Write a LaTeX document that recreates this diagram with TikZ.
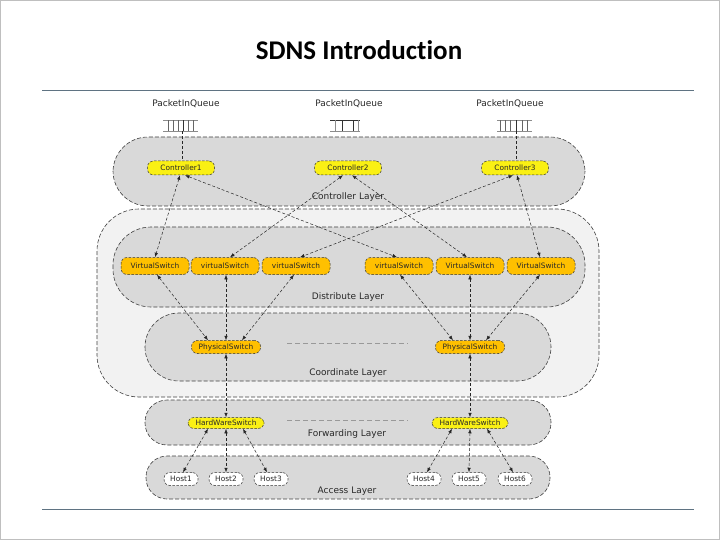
\documentclass[tikz,border=0pt]{standalone}
\usepackage{fontspec}
\setmainfont{DejaVu Sans}
\newfontfamily\titlefont[Ligatures=NoCommon]{Carlito}
\usetikzlibrary{arrows.meta,calc}
\definecolor{ctrlyellow}{RGB}{250,240,20}
\definecolor{sworange}{RGB}{255,192,0}
\definecolor{rulecol}{RGB}{95,115,130}
\definecolor{layerfill}{RGB}{217,217,217}
\definecolor{outerfill}{RGB}{242,242,242}
\definecolor{txtcol}{RGB}{40,40,40}
\begin{document}
\begin{tikzpicture}[x=1pt,y=-1pt,
  box/.style={draw=black!80, dash pattern=on 2.5pt off 1.5pt, line width=0.5pt,
    rounded corners=6pt, inner sep=0pt, text=txtcol,
    font=\fontsize{7.4}{8}\selectfont},
  ctrl/.style={box, fill=ctrlyellow, minimum width=67pt, minimum height=14pt},
  vsw/.style={box, fill=sworange, minimum width=68pt, minimum height=17pt},
  psw/.style={box, fill=sworange, minimum width=69pt, minimum height=13pt},
  hwsw/.style={box, fill=ctrlyellow, minimum width=76pt, minimum height=11pt},
  hostbox/.style={box, fill=white, minimum width=34pt, minimum height=13pt},
  layer/.style={draw=black!75, dash pattern=on 4pt off 2pt, line width=0.6pt, fill=layerfill},
  outer/.style={draw=black!75, dash pattern=on 4pt off 2pt, line width=0.6pt, fill=outerfill},
  lbl/.style={text=txtcol, inner sep=0pt, font=\fontsize{9}{10}\selectfont},
  link/.style={draw=black!85, line width=0.5pt, dash pattern=on 3pt off 2pt,
    {Latex[length=4.5pt,width=3.5pt]}-{Latex[length=4.5pt,width=3.5pt]}},
  plain/.style={draw=black!85, line width=0.5pt, dash pattern=on 3pt off 2pt},
  sep/.style={draw=black!40, line width=0.6pt, dash pattern=on 5pt off 3pt},
  qbar/.style={draw=black!60, line width=0.6pt},
  qdark/.style={draw=black!80, line width=0.9pt},
  qline/.style={draw=black!45, line width=0.6pt}
]
\useasboundingbox (0,0) rectangle (720,540);
\fill[white] (0,0) rectangle (720,540);
\draw[black!25, line width=1pt] (0.5,0.5) rectangle (719.5,539.5);

% title and rules
\node[font=\titlefont\fontsize{27}{32}\selectfont\bfseries] (title) at (359,50) {SDNS Introduction};
\draw[rulecol, line width=1pt] (42,91) -- (694,91);
\draw[rulecol, line width=1pt] (42,509) -- (694,509);

% layers
\draw[outer, rounded corners=42pt] (97,209) rectangle (599,397);
\draw[layer, rounded corners=38pt] (113,227) rectangle (585,307);
\draw[layer, rounded corners=34pt] (145,313) rectangle (551,381);
\draw[layer, rounded corners=35pt] (113,137) rectangle (585,206);
\draw[layer, rounded corners=22pt] (145,400) rectangle (551,445);
\draw[layer, rounded corners=21pt] (146,456) rectangle (550,499);

\node[lbl] (lc) at (348,197) {Controller Layer};
\node[lbl] (ld) at (348,297) {Distribute Layer};
\node[lbl] (lo) at (348,373) {Coordinate Layer};
\node[lbl] (lf) at (347,434) {Forwarding Layer};
\node[lbl] (la) at (347,491) {Access Layer};

% packet-in queues
\node[lbl] (pq1) at (186,104) {PacketInQueue};
\node[lbl] (pq2) at (349,104) {PacketInQueue};
\node[lbl] (pq3) at (510,104) {PacketInQueue};

\draw[qline] (163,120.5) -- (198,120.5);
\draw[qline] (163,131) -- (198,131);
\foreach \x in {168,173,178,188,193} \draw[qbar] (\x,120.5) -- (\x,131);
\draw[qdark] (183,120.5) -- (183,131);
\coordinate (q1) at (182,131);

\draw[qdark] (330,120.5) -- (360,120.5);
\draw[qline] (330,131) -- (360,131);
\foreach \x in {335,358} \draw[qline] (\x,120.5) -- (\x,131);
\foreach \x in {342,353} \draw[qdark] (\x,120.5) -- (\x,131);

\draw[qline] (497,120.5) -- (532,120.5);
\draw[qline] (497,131) -- (532,131);
\foreach \x in {500,505,510,522,527} \draw[qbar] (\x,120.5) -- (\x,131);
\draw[qdark] (516,120.5) -- (516,131);
\coordinate (q3) at (516,131);

% nodes
\node[ctrl] (c1) at (181,168) {Controller1};
\node[ctrl] (c2) at (348,168) {Controller2};
\node[ctrl] (c3) at (515,168) {Controller3};

\node[vsw] (vs1) at (155,266) {VirtualSwitch};
\node[vsw] (vs2) at (225,266) {virtualSwitch};
\node[vsw] (vs3) at (296,266) {virtualSwitch};
\node[vsw] (vs4) at (399,266) {virtualSwitch};
\node[vsw] (vs5) at (470,266) {VirtualSwitch};
\node[vsw] (vs6) at (541,266) {VirtualSwitch};

\node[psw] (ps1) at (226,347) {PhysicalSwitch};
\node[psw] (ps2) at (470,347) {PhysicalSwitch};

\node[hwsw] (hw1) at (226,423) {HardWareSwitch};
\node[hwsw] (hw2) at (470,423) {HardWareSwitch};

\node[hostbox] (h1) at (181,479) {Host1};
\node[hostbox] (h2) at (226,479) {Host2};
\node[hostbox] (h3) at (271,479) {Host3};
\node[hostbox] (h4) at (424,479) {Host4};
\node[hostbox] (h5) at (469,479) {Host5};
\node[hostbox] (h6) at (515,479) {Host6};

% separators
\coordinate (s1a) at (287,343);
\coordinate (s1b) at (408,343);
\draw[sep] (s1a) -- (s1b);
\coordinate (s2a) at (287,420);
\coordinate (s2b) at (408,420);
\draw[sep] (s2a) -- (s2b);

% queue to controller
\draw[plain] (q1) -- (c1.north -| q1);
\draw[plain] (q3) -- (c3.north -| q3);

% controller <-> virtual switch
\draw[link] ([xshift=-1pt]c1.south) -- ([xshift=0pt]vs1.north);
\draw[link] ([xshift=4pt]c1.south) -- ([xshift=-2pt]vs4.north);
\draw[link] ([xshift=-5pt]c2.south) -- ([xshift=5pt]vs2.north);
\draw[link] ([xshift=4pt]c2.south) -- ([xshift=-3pt]vs5.north);
\draw[link] ([xshift=-2pt]c3.south) -- ([xshift=4pt]vs3.north);
\draw[link] ([xshift=2pt]c3.south) -- ([xshift=-1pt]vs6.north);

% virtual switch <-> physical switch
\draw[link] ([xshift=2pt]vs1.south) -- ([xshift=-18pt]ps1.north);
\draw[link] (vs2.south -| ps1.north) -- (ps1.north);
\draw[link] ([xshift=-2pt]vs3.south) -- ([xshift=16pt]ps1.north);
\draw[link] ([xshift=1pt]vs4.south) -- ([xshift=-17pt]ps2.north);
\draw[link] (vs5.south) -- (ps2.north);
\draw[link] ([xshift=-1pt]vs6.south) -- ([xshift=16pt]ps2.north);

% physical <-> hardware
\draw[link] (ps1.south) -- (hw1.north);
\draw[link] (ps2.south) -- (hw2.north);

% hardware <-> hosts
\draw[link] ([xshift=-18pt]hw1.south) -- ([xshift=2pt]h1.north);
\draw[link] (hw1.south) -- (h2.north);
\draw[link] ([xshift=17pt]hw1.south) -- ([xshift=-4pt]h3.north);
\draw[link] ([xshift=-18pt]hw2.south) -- ([xshift=3pt]h4.north);
\draw[link] (hw2.south) -- (h5.north);
\draw[link] ([xshift=17pt]hw2.south) -- ([xshift=-2pt]h6.north);
\end{tikzpicture}
\end{document}
